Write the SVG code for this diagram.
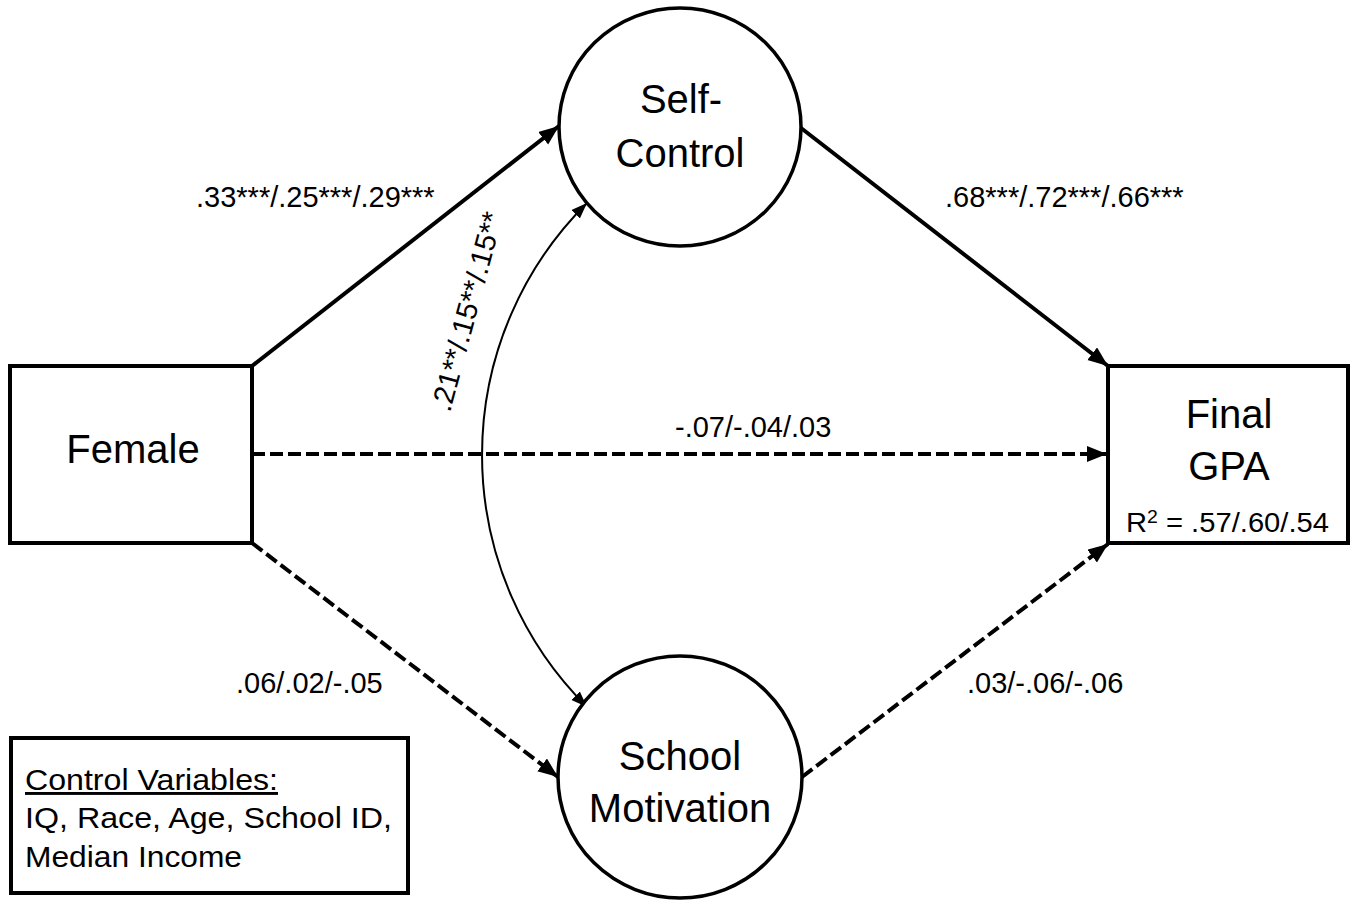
<svg xmlns="http://www.w3.org/2000/svg" width="1355" height="902" viewBox="0 0 1355 902">
  <style>
    .node { fill: #ffffff; stroke: #000000; stroke-width: 4; }
    .ell { fill: #ffffff; stroke: #000000; stroke-width: 3.5; }
    .t { font-family: "Liberation Sans", Arial, sans-serif; fill: #000000; }
    .big { font-size: 40px; text-anchor: middle; }
    .lab { font-size: 29px; }
    .conn { fill: none; stroke: #000000; stroke-width: 4; }
    .dash { stroke-dasharray: 13 5; }
    .arc { fill: none; stroke: #000000; stroke-width: 2; }
  </style>
  <defs>
    <marker id="ah" markerUnits="userSpaceOnUse" markerWidth="22" markerHeight="18" refX="20" refY="8" orient="auto">
      <path d="M0,0 L20,8 L0,16 z" fill="#000000"/>
    </marker>
    <marker id="ahs" markerUnits="userSpaceOnUse" markerWidth="18" markerHeight="14" refX="16" refY="6" orient="auto-start-reverse">
      <path d="M0,0 L16,6 L0,12 z" fill="#000000"/>
    </marker>
  </defs>
  <rect width="1355" height="902" fill="#ffffff"/>

  <g id="connectors">
    <path class="conn" d="M252,366 L559,126" marker-end="url(#ah)"/>
    <path class="conn" d="M801,128 L1108,366" marker-end="url(#ah)"/>
    <path class="conn dash" d="M252,454 L1107,454" marker-end="url(#ah)"/>
    <path class="conn dash" d="M252,543 L558,777" marker-end="url(#ah)"/>
    <path class="conn dash" d="M802,777 L1108,544" marker-end="url(#ah)"/>
    <path class="arc" d="M587,203 A355,355 0 0,0 587,707" marker-start="url(#ahs)" marker-end="url(#ahs)"/>
  </g>

  <g id="labels">
    <text class="t lab" x="196" y="207">.33***/.25***/.29***</text>
    <text class="t lab" x="945" y="207">.68***/.72***/.66***</text>
    <text class="t lab" x="675" y="437">-.07/-.04/.03</text>
    <text class="t lab" x="236" y="693">.06/.02/-.05</text>
    <text class="t lab" x="967" y="693">.03/-.06/-.06</text>
    <text class="t lab" x="450" y="413" transform="rotate(-75 450 413)">.21**/.15**/.15**</text>
  </g>

  <g id="node-female">
    <rect class="node" x="10" y="366" width="242" height="177"/>
    <text class="t big" x="133" y="463">Female</text>
  </g>

  <g id="node-self-control">
    <ellipse class="ell" cx="680" cy="127" rx="121" ry="119"/>
    <text class="t big" x="681" y="113">Self-</text>
    <text class="t big" x="680" y="167">Control</text>
  </g>

  <g id="node-school-motivation">
    <ellipse class="ell" cx="680" cy="777" rx="122" ry="121"/>
    <text class="t big" x="680" y="770">School</text>
    <text class="t big" x="680" y="822">Motivation</text>
  </g>

  <g id="node-final-gpa">
    <rect class="node" x="1108" y="366" width="240" height="177"/>
    <text class="t big" x="1229" y="428">Final</text>
    <text class="t big" x="1229" y="480">GPA</text>
    <text class="t" x="1126" y="532" font-size="27" textLength="203" lengthAdjust="spacingAndGlyphs">R<tspan font-size="18" dy="-9">2</tspan><tspan dy="9"> = .57/.60/.54</tspan></text>
  </g>

  <g id="control-variables">
    <rect class="node" x="11" y="738" width="397" height="155"/>
    <text class="t" x="25" y="790" font-size="29" text-decoration="underline" textLength="253" lengthAdjust="spacingAndGlyphs">Control Variables:</text>
    <text class="t" x="25" y="828" font-size="29" textLength="367" lengthAdjust="spacingAndGlyphs">IQ, Race, Age, School ID,</text>
    <text class="t" x="25" y="867" font-size="29" textLength="217" lengthAdjust="spacingAndGlyphs">Median Income</text>
  </g>
</svg>
